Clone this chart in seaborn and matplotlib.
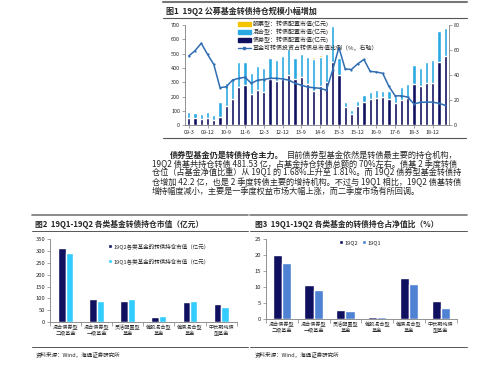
import numpy as np
import pandas as pd
import seaborn as sns
import matplotlib.pyplot as plt
from matplotlib.lines import Line2D
from matplotlib.patches import Patch

sns.set_theme(style='white')
plt.rcParams['font.family'] = ['Noto Sans CJK SC', 'DejaVu Sans']
plt.rcParams['axes.unicode_minus'] = False

# ---- 图1 data (quarterly, 亿元 / %) ----
quarters = ['09-3', '09-6', '09-9', '09-12', '10-3', '10-6', '10-9', '10-12',
            '11-3', '11-6', '11-9', '11-12', '12-3', '12-6', '12-9', '12-12',
            '13-3', '13-6', '13-9', '13-12', '14-3', '14-6', '14-9', '14-12',
            '15-3', '15-6', '15-9', '15-12', '16-3', '16-6', '16-9', '16-12',
            '17-3', '17-6', '17-9', '17-12', '18-3', '18-6', '18-9', '18-12',
            '19-3', '19-6']
bond_fund = [53, 53, 47, 53, 40, 58, 135, 181, 270, 284, 219, 247, 235, 325,
             312, 325, 349, 321, 334, 290, 240, 274, 300, 444, 351, 126, 78,
             136, 160, 184, 193, 195, 184, 155, 177, 193, 286, 277, 293, 293,
             440, 482]
mixed_fund = [40, 35, 34, 42, 30, 102, 158, 147, 174, 160, 144, 167, 167, 145,
              142, 159, 181, 152, 161, 184, 222, 204, 195, 248, 119, 34, 27,
              32, 52, 51, 54, 47, 56, 50, 93, 93, 133, 125, 147, 163, 220, 195]
stock_fund = [0, 0, 0, 0, 0, 0, 0, 0, 0, 0, 0, 0, 0, 0, 0, 0, 0, 0, 0, 12, 15,
              12, 10, 0, 0, 0, 0, 0, 0, 0, 0, 0, 0, 0, 0, 0, 0, 0, 0, 0, 0, 7]
fund_ratio = [55.3, 59.5, 65.4, 56.6, 48.6, 30.0, 30.8, 36.1, 37.5, 38.3, 33.5,
              36.0, 36.5, 37.5, 37.5, 37.0, 36.0, 33.5, 32.0, 30.5, 30.0, 29.5,
              28.0, 44.0, 62.0, 45.0, 44.5, 49.0, 52.5, 43.0, 42.5, 41.5, 31.0,
              23.5, 23.5, 22.5, 17.0, 18.3, 18.5, 18.5, 17.5, 16.0]
legend1 = ['股票型：转债配置市值(亿元)', '混合型：转债配置市值(亿元)',
           '债券型：转债配置市值(亿元)', '基金可转债投资占转债总市值比例（%，右轴）']

# ---- 图2 / 图3 data ----
fund_types = ['混合债券型\n二级基金', '混合债券型\n一级基金', '灵活配置型\n基金',
              '偏股混合型\n基金', '偏债混合型\n基金', '中长期纯债\n型基金']
value_q2 = [313, 96, 90, 21, 83, 78]
value_q1 = [292, 89, 99, 25, 87, 65]
pct_q2 = [20.0, 10.7, 2.9, 0.7, 12.9, 5.8]
pct_q1 = [17.5, 9.2, 2.5, 0.6, 10.9, 3.4]

paragraph = [
    '目前债券型基金依然是转债最主要的持仓机构，',
    '19Q2 债基共持仓转债 481.53 亿，占基金持仓转债总额的 70%左右。债基 2 季度转债',
    '仓位（占基金净值比重）从 19Q1 的 1.68%上升至 1.81%。而 19Q2 债券型基金转债持',
    '仓增加 42.2 亿，也是 2 季度转债主要的增持机构。不过与 19Q1 相比，19Q2 债基转债',
    '增持幅度减小，主要是一季度权益市场大幅上涨，而二季度市场有所回调。',
]

NAVY = '#101060'
LIGHT = '#29a9e1'
YELLOW = '#f5c400'
LINEC = '#2f6db3'
CYAN = '#33ccff'
MIDBLUE = '#4f82d2'
GRID = '#808080'

W, H = 499, 366
fig = plt.figure(figsize=(W / 100, H / 100), dpi=100)
fig.patch.set_facecolor('white')


def rect(x0, y0, x1, y1):
    return [x0 / W, 1 - y1 / H, (x1 - x0) / W, (y1 - y0) / H]


def hline(y, x0, x1, lw=0.8, color='#555555'):
    fig.add_artist(Line2D([x0 / W, x1 / W], [1 - y / H, 1 - y / H],
                          lw=lw, color=color, transform=fig.transFigure))


def ftext(x, y, s, **kw):
    return fig.text(x / W, 1 - y / H, s, va='center', ha='left', **kw)


def style_cat_axes(ax):
    for side in ['top', 'right']:
        ax.spines[side].set_visible(False)
    for side in ['left', 'bottom']:
        ax.spines[side].set_color(GRID)
        ax.spines[side].set_linewidth(0.6)
    ax.set_xlabel('')
    ax.set_ylabel('')
    ax.set_xticks(np.arange(-0.5, 6, 1), minor=True)
    ax.tick_params(axis='x', which='minor', length=3, width=0.5, color=GRID,
                   direction='out', bottom=True)
    ax.tick_params(axis='x', which='major', length=0, pad=2, labelsize=3.7)
    ax.tick_params(axis='y', length=2, width=0.5, color=GRID, labelsize=4.2,
                   pad=1.5, left=True)


# ================= 图1 =================
hline(2, 163, 467, lw=1.5, color='#777777')
ftext(166, 11, '图1  19Q2 公募基金转债持仓规模小幅增加', fontsize=5.8,
      fontweight='bold')
hline(17.5, 163, 467, lw=0.8)

df1 = pd.DataFrame({'quarter': quarters, 'bond': bond_fund,
                    'mixed': mixed_fund, 'stock': stock_fund})
df1['mixed_top'] = df1['bond'] + df1['mixed']
df1['stock_top'] = df1['mixed_top'] + df1['stock']

ax1 = fig.add_axes(rect(185, 25, 449, 125.3))
sns.barplot(data=df1, x='quarter', y='stock_top', color=YELLOW, width=0.52,
            saturation=1, ax=ax1)
sns.barplot(data=df1, x='quarter', y='mixed_top', color=LIGHT, width=0.52,
            saturation=1, ax=ax1)
sns.barplot(data=df1, x='quarter', y='bond', color=NAVY, width=0.52,
            saturation=1, ax=ax1)
ax1.set_xlim(-0.6, 41.6)
ax1.set_ylim(0, 700)
ax1.set_yticks(range(0, 701, 100))
ax1.set_xticks(range(0, 42, 3))
ax1.set_xticklabels(quarters[::3])
ax1.set_xlabel('')
ax1.set_ylabel('')
ax1.tick_params(axis='both', labelsize=3.9, length=2, width=0.5, color=GRID,
                pad=1.5, left=True, bottom=True)
for side in ['top', 'right']:
    ax1.spines[side].set_visible(False)
for side in ['left', 'bottom']:
    ax1.spines[side].set_color(GRID)
    ax1.spines[side].set_linewidth(0.6)

ax1b = ax1.twinx()
sns.lineplot(x=np.arange(len(quarters)), y=fund_ratio, ax=ax1b, color=LINEC,
             linewidth=1.1, marker='o', markersize=1.6, markeredgewidth=0)
ax1b.set_ylim(0, 80)
ax1b.set_yticks(range(0, 81, 20))
ax1b.set_xlim(-0.6, 41.6)
ax1b.tick_params(axis='y', labelsize=3.9, length=2, width=0.5, color=GRID,
                 pad=1.5, right=True)
for side in ['top', 'left', 'bottom']:
    ax1b.spines[side].set_visible(False)
ax1b.spines['right'].set_color(GRID)
ax1b.spines['right'].set_linewidth(0.6)

handles1 = [Patch(color=YELLOW), Patch(color=LIGHT), Patch(color=NAVY),
            Line2D([], [], color=LINEC, lw=1.0, marker='o', markersize=1.6)]
ax1b.legend(handles1, legend1, loc='upper left', bbox_to_anchor=(0.19, 1.07),
            frameon=False, fontsize=4.3, handlelength=2.2, handleheight=0.6,
            labelspacing=0.25, handletextpad=0.4, borderaxespad=0)

hline(138.3, 163, 466, lw=0.8)

# ================= paragraph =================
bold_txt = ftext(170, 155, '债券型基金仍是转债持仓主力。', fontsize=5.9,
                 fontweight='bold')
fig.canvas.draw()
bb = bold_txt.get_window_extent(fig.canvas.get_renderer())
ftext(bb.x1 + 3, 155, paragraph[0], fontsize=5.9)
for i, line in enumerate(paragraph[1:]):
    ftext(152, 164 + 9 * i, line, fontsize=5.9)

# ================= 图2 =================
hline(215, 32, 248, lw=1.2, color='#777777')
ftext(35, 224.5, '图2  19Q1-19Q2 各类基金转债持仓市值（亿元）', fontsize=5.6,
      fontweight='bold')
hline(231, 32, 248, lw=0.7)

df2 = pd.DataFrame({'fund': fund_types * 2,
                    'value': value_q2 + value_q1,
                    'period': ['19Q2各类基金的转债持仓市值（亿元）'] * 6
                    + ['19Q1各类基金的转债持仓市值（亿元）'] * 6})
ax2 = fig.add_axes(rect(50, 239.3, 236.7, 322))
sns.barplot(data=df2, x='fund', y='value', hue='period',
            palette=[NAVY, CYAN], width=0.48, saturation=1, ax=ax2)
ax2.set_ylim(0, 350)
ax2.set_yticks(range(0, 351, 50))
ax2.set_xlim(-0.5, 5.5)
style_cat_axes(ax2)
ax2.legend(loc='upper left', bbox_to_anchor=(0.3, 0.98), frameon=False,
           fontsize=4.0, handlelength=0.7, handleheight=0.7,
           labelspacing=1.6, handletextpad=0.3, borderaxespad=0)

hline(346.7, 32, 248, lw=0.7)
ftext(36, 354, '资料来源：Wind，海通证券研究所', fontsize=4.0)

# ================= 图3 =================
hline(215, 250, 467, lw=1.2, color='#777777')
ftext(255, 224.5, '图3  19Q1-19Q2 各类基金的转债持仓占净值比（%）', fontsize=5.6,
      fontweight='bold')
hline(231, 250, 467, lw=0.7)

df3 = pd.DataFrame({'fund': fund_types * 2,
                    'pct': pct_q2 + pct_q1,
                    'period': ['19Q2'] * 6 + ['19Q1'] * 6})
ax3 = fig.add_axes(rect(266, 239.3, 456.7, 319.3))
sns.barplot(data=df3, x='fund', y='pct', hue='period',
            palette=[NAVY, MIDBLUE], width=0.58, saturation=1, ax=ax3)
ax3.set_ylim(0, 25)
ax3.set_yticks(range(0, 26, 5))
ax3.set_xlim(-0.5, 5.5)
style_cat_axes(ax3)
ax3.legend(loc='upper left', bbox_to_anchor=(0.37, 1.02), frameon=False,
           ncol=2, fontsize=4.0, handlelength=0.7, handleheight=0.7,
           columnspacing=0.8, handletextpad=0.3, borderaxespad=0)

hline(346.7, 250, 467, lw=0.7)
ftext(255, 354, '资料来源：Wind，海通证券研究所', fontsize=4.0)

fig.savefig('out.png', dpi=100, facecolor='white')
